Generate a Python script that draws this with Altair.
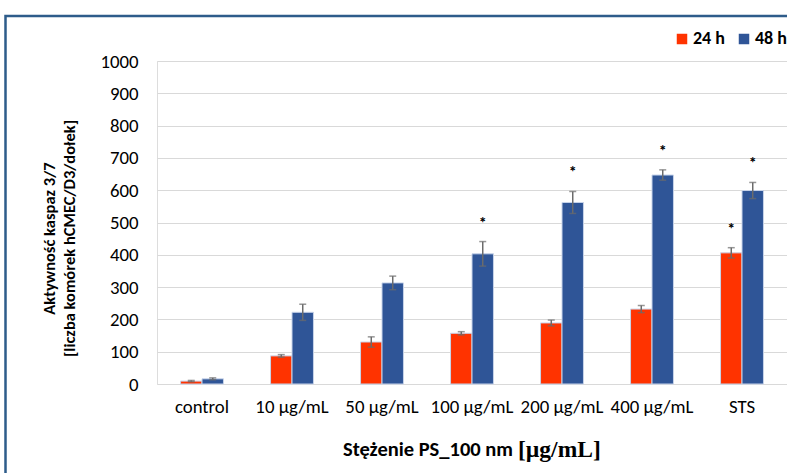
import altair as alt
import pandas as pd

# Caspase 3/7 activity in hCMEC/D3 cells after PS_100 nm exposure
categories = ["control", "10 µg/mL", "50 µg/mL", "100 µg/mL", "200 µg/mL", "400 µg/mL", "STS"]
series = ["24 h", "48 h"]
mean_24 = [9, 87, 130, 157, 189, 232, 406]
err_24 = [2, 4, 16, 5, 9, 11, 16]
mean_48 = [16, 222, 313, 403, 562, 647, 599]
err_48 = [3, 25, 21, 38, 34, 16, 25]
star_24 = [0, 0, 0, 0, 0, 0, 1]
star_48 = [0, 0, 0, 1, 1, 1, 1]

rows = []
for i, c in enumerate(categories):
    for s, m, e, st in ((series[0], mean_24, err_24, star_24), (series[1], mean_48, err_48, star_48)):
        rows.append({"cat": c, "series": s, "mean": m[i], "lo": m[i] - e[i],
                     "hi": m[i] + e[i], "star": "*" if st[i] else ""})
df = pd.DataFrame(rows)

FONT = "Carlito, Calibri, Lato, sans-serif"
W, H = 630, 323

x_axis = alt.Axis(title=None, labelAngle=0, labelFontSize=18.8, labelFont=FONT,
                  labelColor="#000000", labelPadding=13, domain=False, ticks=False)
y_axis = alt.Axis(title=["Aktywność kaspaz 3/7", "[liczba komórek hCMEC/D3/dołek]"],
                  titleFont=FONT, titleFontSize=16.5, titleFontWeight="bold",
                  titleColor="#000000", titlePadding=22, titleLineHeight=20, titleY=177,
                  values=list(range(0, 1001, 100)), format="d", labelOverlap=False,
                  labelFontSize=18.8, labelFont=FONT,
                  labelColor="#000000", labelPadding=19, domain=False, ticks=False,
                  grid=True, gridColor="#D9D9D9", gridWidth=1)
y_scale = alt.Scale(domain=[0, 1000])

x = alt.X("cat:N", sort=categories,
          scale=alt.Scale(paddingInner=0.523, paddingOuter=0.2615), axis=x_axis)
xo = alt.XOffset("series:N", sort=series, scale=alt.Scale(paddingInner=0, paddingOuter=0))

base = alt.Chart(df)

bars = base.mark_bar(stroke="#C8D4EA", strokeWidth=1).encode(
    x=x, xOffset=xo,
    y=alt.Y("mean:Q", scale=y_scale, axis=y_axis),
    color=alt.Color("series:N", sort=series,
                    scale=alt.Scale(domain=series, range=["#FF3300", "#2F5597"]),
                    legend=alt.Legend(title=None, orient="none", legendX=516, legendY=-31,
                                      direction="horizontal", symbolType="square",
                                      symbolSize=110, symbolStrokeWidth=0,
                                      labelFont=FONT, labelFontSize=18,
                                      labelFontWeight="bold", labelColor="#000000",
                                      columnPadding=10, labelOffset=2)),
)

err_rule = base.mark_rule(color="#6B6B6B", strokeWidth=1.5).encode(
    x=x, xOffset=xo, y=alt.Y("lo:Q", scale=y_scale, axis=y_axis), y2="hi:Q")
cap_hi = base.mark_tick(color="#6B6B6B", thickness=1.5, size=7).encode(
    x=x, xOffset=xo, y=alt.Y("hi:Q", scale=y_scale, axis=y_axis))
cap_lo = base.mark_tick(color="#6B6B6B", thickness=1.5, size=7).encode(
    x=x, xOffset=xo, y=alt.Y("lo:Q", scale=y_scale, axis=y_axis))

stars = base.mark_text(fontSize=16, fontWeight="bold", color="#000000",
                       baseline="middle", dy=-19, font=FONT).encode(
    x=x, xOffset=xo, y=alt.Y("hi:Q", scale=y_scale, axis=y_axis), text="star:N")

frame_data = alt.Data(values=[{"k": 1}])
frame = alt.Chart(frame_data).mark_rect(fillOpacity=0, stroke="#2E5C8A", strokeWidth=2.5).encode(
    x=alt.value(-151.5), x2=alt.value(720), y=alt.value(-45), y2=alt.value(480))

xtitle_a = alt.Chart(frame_data).mark_text(
    text="Stężenie PS_100 nm", font=FONT, fontSize=20.5, fontWeight="bold",
    color="#000000", align="right", baseline="middle").encode(
    x=alt.value(356), y=alt.value(389))
xtitle_b = alt.Chart(frame_data).mark_text(
    text="[µg/mL]", font="'Liberation Serif', 'Times New Roman', serif", fontSize=23.5,
    fontWeight="bold", color="#000000", align="left", baseline="middle").encode(
    x=alt.value(361), y=alt.value(389))

chart = alt.layer(bars, err_rule, cap_hi, cap_lo, stars, frame, xtitle_a, xtitle_b).properties(
    width=W, height=H,
    autosize=alt.AutoSizeParams(type="none"),
    padding={"left": 157, "top": 61, "right": 0, "bottom": 89},
).configure_view(stroke=None).configure(background="#FFFFFF")

chart.save("out.html", embed_options={"renderer": "svg", "actions": False})
